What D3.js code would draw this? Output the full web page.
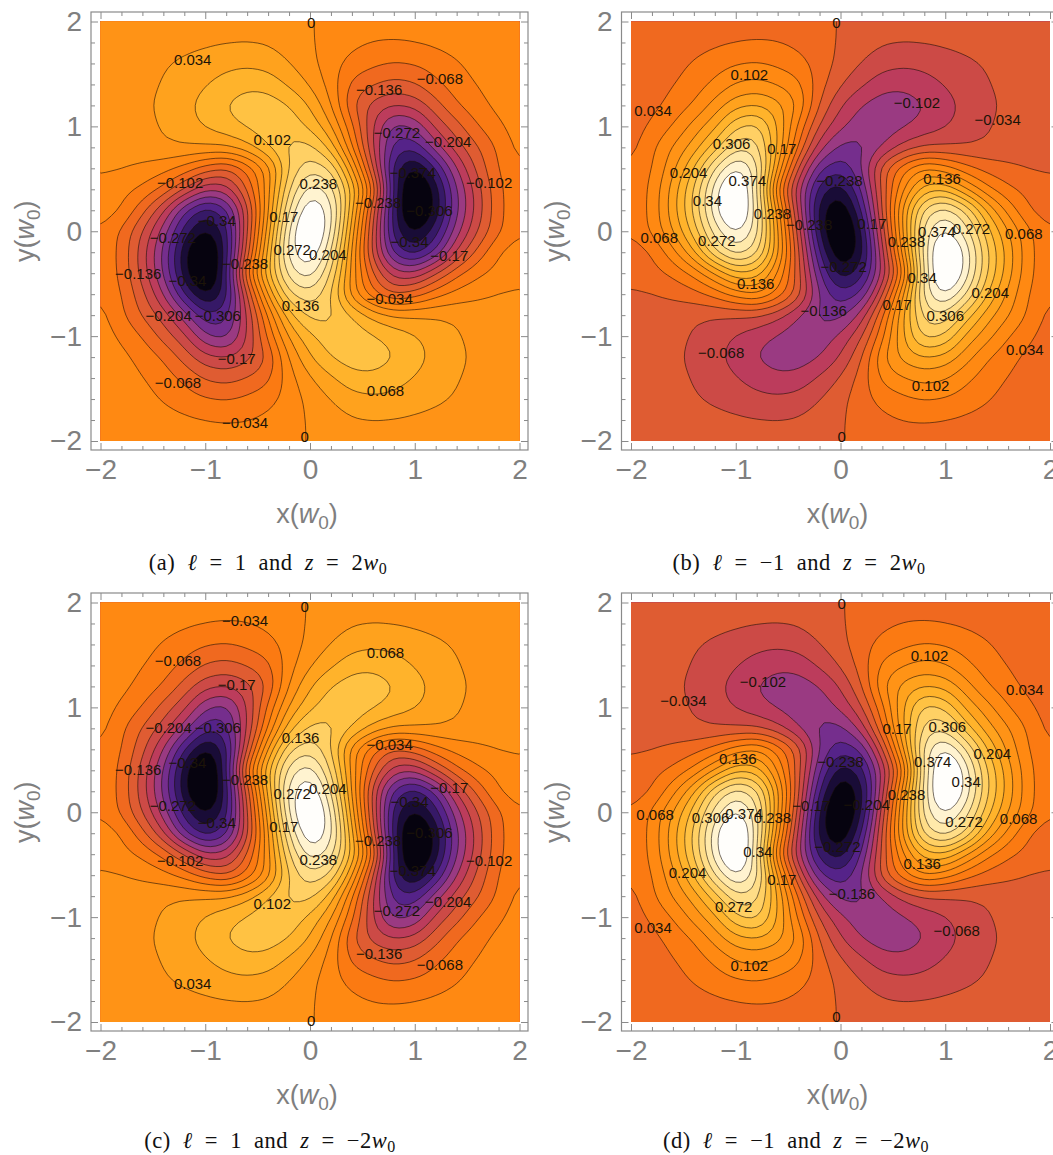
<!DOCTYPE html>
<html>
<head>
<meta charset="utf-8">
<script src="https://cdn.jsdelivr.net/npm/d3@7"></script>
<style>
html, body { margin: 0; padding: 0; background: #fff; overflow: hidden; }
svg { display: block; }
</style>
</head>
<body>
<div id="chart"></div>
<script>
// field of panel (a). rows go y = 2 .. 0, columns x = -2 .. 2 in steps of 0.2
// the lower half is the same field turned by 180 degrees
let upperRows = [
    [.004,.006,.008,.011,.014,.017,.019,.020,.018,.011,.002,-.008,-.014,-.019,-.020,-.020,-.017,-.013,-.009,-.006,-.004],
    [.005,.008,.011,.016,.021,.027,.031,.033,.030,.018,.004,-.014,-.026,-.034,-.035,-.032,-.027,-.020,-.013,-.008,-.005],
    [.006,.011,.019,.030,.042,.052,.060,.062,.055,.034,.010,-.020,-.045,-.060,-.070,-.065,-.052,-.037,-.022,-.012,-.007],
    [.006,.012,.022,.037,.052,.066,.080,.094,.090,.062,.030,-.015,-.078,-.100,-.115,-.105,-.075,-.050,-.032,-.018,-.010],
    [.004,.012,.026,.043,.060,.080,.105,.122,.122,.105,.066,.004,-.100,-.150,-.170,-.160,-.115,-.070,-.045,-.024,-.012],
    [.002,.010,.022,.038,.054,.072,.088,.108,.125,.125,.095,.040,-.060,-.170,-.255,-.235,-.160,-.115,-.068,-.040,-.016],
    [.005,.012,.020,.028,.033,.034,.036,.058,.105,.145,.150,.090,-.030,-.170,-.290,-.300,-.220,-.150,-.105,-.060,-.022],
    [.006,.003,-.007,-.020,-.045,-.085,-.110,-.060,.012,.140,.195,.170,.040,-.135,-.330,-.385,-.310,-.204,-.125,-.065,-.036],
    [-.012,-.022,-.040,-.075,-.135,-.200,-.190,-.100,.020,.170,.262,.225,.100,-.060,-.320,-.455,-.360,-.240,-.150,-.073,-.042],
    [-.016,-.032,-.090,-.165,-.272,-.330,-.290,-.150,.030,.210,.315,.262,.080,-.120,-.330,-.455,-.365,-.245,-.155,-.075,-.042]
];
let middleRow = [-.036,-.073,-.136,-.220,-.325,-.385,-.330,-.140,.050,.250,.345,.250,.050,-.140,-.330,-.385,-.325,-.220,-.136,-.073,-.036];

let levelSteps = d3.range(-11, 9);   // contour levels are multiples of 0.034

let majorTicks = [-2, -1, 0, 1, 2];
let minorTicks = d3.range(-20, 21, 2).map(d => d / 10).filter(d => !majorTicks.includes(d));

let colorStops = [0, .05, .1, .15, .2, .262, .31, .357, .405, .453, .5, .55, .6, .65, .7, .75, .8, .85, .9, .95, .98];
let colorValues = ["#000000", "#0d0620", "#2a1555", "#4a2085", "#6a2a90", "#9a3a82", "#bc3c5c", "#cc4a46", "#df5c32",
    "#f0691f", "#fb7a12", "#ff8a12", "#ff9416", "#ffa41e", "#ffb62e", "#ffc64a", "#ffd46e", "#ffe294", "#ffedb8", "#fff8e2", "#ffffff"];

// contour labels: text, x, y. panel (c) uses labelsA with y turned over
let labelsA = [
    ["0",.01,1.99],["0.034",-1.12,1.64],["\u22120.068",1.24,1.45],["\u22120.136",.66,1.35],["0.102",-.36,.87],
    ["\u22120.272",.83,.94],["\u22120.204",1.32,.85],["\u22120.102",-1.24,.46],["\u22120.102",1.71,.46],["\u22120.374",.98,.56],
    ["0.238",.08,.45],["0.17",-.25,.14],["\u22120.34",-.89,.10],["\u22120.238",.65,.27],["\u22120.306",1.14,.20],
    ["\u22120.272",-1.31,-.06],["0.272",-.17,-.18],["0.204",.17,-.22],["\u22120.238",-.62,-.31],["\u22120.136",-1.64,-.41],
    ["\u22120.34",-1.17,-.47],["\u22120.34",.95,-.10],["\u22120.17",1.33,-.23],["\u22120.034",.76,-.64],["0.136",-.09,-.71],
    ["\u22120.204",-1.35,-.81],["\u22120.306",-.88,-.81],["\u22120.17",-.70,-1.22],["\u22120.068",-1.26,-1.44],["0.068",.72,-1.52],
    ["\u22120.034",-.62,-1.83],["0",-.05,-1.96]
];
let labelsB = [
    ["0",-.04,1.99],["0.102",-.87,1.49],["\u22120.102",.73,1.23],["0.034",-1.79,1.15],["\u22120.034",1.50,1.06],
    ["0.306",-1.04,.83],["0.17",-.56,.79],["0.204",-1.45,.56],["0.136",.97,.50],["\u22120.238",-.01,.48],
    ["0.374",-.89,.48],["0.34",-1.27,.29],["0.238",-.65,.17],["\u22120.238",-.30,.06],["0.17",.30,.07],
    ["0.068",-1.73,-.06],["0.272",-1.18,-.09],["\u22120.272",.03,-.34],["0.238",.63,-.10],["0.374",.92,0],
    ["0.272",1.25,.02],["0.068",1.75,-.02],["0.34",.78,-.44],["0.204",1.43,-.59],["0.17",.54,-.70],
    ["0.306",1.0,-.81],["\u22120.136",-.16,-.76],["0.136",-.81,-.50],["\u22120.068",-1.14,-1.16],["0.034",1.76,-1.13],
    ["0.102",.86,-1.47],["0",.01,-1.96]
];
let labelsD = [
    ["0",.01,1.99],["0.102",.85,1.49],["0.034",1.76,1.17],["\u22120.034",-1.50,1.06],["\u22120.102",-.74,1.24],
    ["0.17",.54,.80],["0.306",1.02,.82],["0.136",-.98,.51],["0.204",1.45,.56],["\u22120.238",0,.48],
    ["0.374",.88,.48],["0.34",1.20,.29],["0.238",.63,.17],["\u22120.17",-.28,.06],["\u22120.204",.25,.07],
    ["0.068",-1.77,-.02],["0.306",-1.24,-.05],["0.374",-.92,-.01],["0.238",-.65,-.05],["0.272",1.18,-.09],
    ["0.068",1.70,-.06],["\u22120.272",-.03,-.33],["0.34",-.79,-.38],["0.136",.78,-.49],["0.204",-1.46,-.58],
    ["0.17",-.56,-.64],["\u22120.136",.11,-.78],["0.272",-1.02,-.90],["0.034",-1.79,-1.10],["\u22120.068",1.11,-1.13],
    ["0.102",-.87,-1.46],["0",-.04,-1.95]
];

let captions = {
    a: ["(a) ", ["\u2113"], " = 1 and ", ["z"], " = 2", ["w"], "0"],
    b: ["(b) ", ["\u2113"], " = \u22121 and ", ["z"], " = 2", ["w"], "0"],
    c: ["(c) ", ["\u2113"], " = 1 and ", ["z"], " = \u22122", ["w"], "0"],
    d: ["(d) ", ["\u2113"], " = \u22121 and ", ["z"], " = \u22122", ["w"], "0"]
};

let width = 1053, height = 1155;
let step = 0.034;
let n = 21;
let fine = 4;                 // contour surface has 4 cells per read value
let m = (n - 1) * fine + 1;

let lowerRows = upperRows.slice().reverse().map(r => r.slice().reverse());
let rows = upperRows.concat([middleRow], lowerRows);

let color = d3.scaleLinear().domain(colorStops).range(colorValues).clamp(true);
let gridX = d3.scaleLinear().domain([0, m - 1]).range([-2, 2]);
let gridY = d3.scaleLinear().domain([0, m - 1]).range([2, -2]);

// the read values are coarse, so contour a softened surface through them
function surface(value) {
    let out = new Float64Array(m * m);
    for (let j = 0; j < m; j++) {
        for (let i = 0; i < m; i++) {
            let i0 = Math.min(Math.floor(i / fine), n - 2), j0 = Math.min(Math.floor(j / fine), n - 2);
            let u = i / fine - i0, v = j / fine - j0;
            let top = d3.interpolateNumber(value(i0, j0), value(i0 + 1, j0))(u);
            let bottom = d3.interpolateNumber(value(i0, j0 + 1), value(i0 + 1, j0 + 1))(u);
            out[j * m + i] = d3.interpolateNumber(top, bottom)(v);
        }
    }
    return d3.blur2({data: out, width: m, height: m}, 1).data;
}

let svg = d3.select("#chart").append("svg")
    .attr("width", width)
    .attr("height", height)
    .attr("viewBox", [0, 0, width, height]);

let panels = [
    {id: "a", left: 100.5, top: 21.5, labels: labelsA, flipLabels: false, low: -.408, high: .306, capX: 268, capY: 570,
        value: (i, j) => rows[j][i]},
    {id: "b", left: 631, top: 21.5, labels: labelsB, flipLabels: false, low: -.306, high: .408, capX: 799, capY: 570,
        value: (i, j) => -rows[n - 1 - j][i]},
    {id: "c", left: 100.5, top: 602.5, labels: labelsA, flipLabels: true, low: -.408, high: .306, capX: 270, capY: 1148,
        value: (i, j) => rows[n - 1 - j][i]},
    {id: "d", left: 631, top: 602.5, labels: labelsD, flipLabels: false, low: -.306, high: .408, capX: 796, capY: 1148,
        value: (i, j) => -rows[j][i]}
];

panels.forEach(function (p) {
    let x = d3.scaleLinear().domain([-2, 2]).range([p.left, p.left + 419]);
    let y = d3.scaleLinear().domain([-2, 2]).range([p.top + 419.5, p.top]);
    let g = svg.append("g").attr("class", "panel-" + p.id);

    let values = surface(p.value);

    let levels = levelSteps.map(k => k * step);
    if (p.id === "b" || p.id === "d") levels = levelSteps.map(k => -k * step).reverse();

    let bandColor = function (mid) {
        return color((mid - p.low) / (p.high - p.low));
    };

    let contours = d3.contours().size([m, m]).smooth(true).thresholds(levels)(values);

    // contour rings come in cell units, cell centres sit at i + 0.5
    let line = d3.line()
        .x(d => x(gridX(d[0] - .5)))
        .y(d => y(gridY(d[1] - .5)))
        .curve(d3.curveLinearClosed);

    let ringsToPath = function (c) {
        let out = "";
        c.coordinates.forEach(function (polygon) {
            polygon.forEach(function (ring) {
                out += line(ring.slice(0, -1));
            });
        });
        return out;
    };

    g.append("clipPath").attr("id", "clip-" + p.id)
        .append("rect")
        .attr("x", x(-2)).attr("y", y(2))
        .attr("width", x(2) - x(-2)).attr("height", y(-2) - y(2));

    let plot = g.append("g").attr("clip-path", "url(#clip-" + p.id + ")");

    plot.append("rect")
        .attr("x", x(-2)).attr("y", y(2))
        .attr("width", x(2) - x(-2)).attr("height", y(-2) - y(2))
        .attr("fill", bandColor(levels[0] - step / 2));

    plot.selectAll("path.band")
        .data(contours)
        .enter().append("path")
        .attr("class", "band")
        .attr("d", ringsToPath)
        .attr("fill", d => bandColor(d.value + step / 2))
        .attr("fill-rule", "evenodd")
        .attr("stroke", "#1a1008")
        .attr("stroke-opacity", .62)
        .attr("stroke-width", .95);

    // frame sits a little outside the plotted range
    let frameL = x(-2) - 9.5, frameR = x(2) + 8.5, frameT = y(2) - 9.5, frameB = y(-2) + 9;
    g.append("rect")
        .attr("x", frameL).attr("y", frameT)
        .attr("width", frameR - frameL).attr("height", frameB - frameT)
        .attr("fill", "none")
        .attr("stroke", "#8a8a8a")
        .attr("stroke-width", 1.2);

    let fmt = d3.format("d");
    let axes = [
        {make: d3.axisBottom(x), at: [0, frameB], labelled: true},
        {make: d3.axisBottom(x), at: [0, frameT], labelled: false, flip: true},
        {make: d3.axisLeft(y), at: [frameL, 0], labelled: true},
        {make: d3.axisLeft(y), at: [frameR, 0], labelled: false, flip: true}
    ];
    axes.forEach(function (a) {
        let sign = a.flip ? 1 : -1;
        let major = g.append("g")
            .attr("transform", "translate(" + a.at + ")")
            .call(a.make.tickValues(majorTicks).tickSizeInner(sign * 7).tickSizeOuter(0).tickPadding(9)
                .tickFormat(a.labelled ? fmt : ""));
        major.select(".domain").remove();
        major.selectAll("text")
            .attr("fill", "#7f7f7f")
            .style("font-family", "'Liberation Sans', Arial, sans-serif")
            .style("font-size", "28px");
        major.selectAll("line").attr("stroke", "#8a8a8a");

        let minor = g.append("g")
            .attr("transform", "translate(" + a.at + ")")
            .call(a.make.tickValues(minorTicks).tickSizeInner(sign * 4).tickSizeOuter(0).tickFormat(""));
        minor.select(".domain").remove();
        minor.selectAll("line").attr("stroke", "#8a8a8a");
    });

    g.selectAll("text.contour-label")
        .data(p.labels)
        .enter().append("text")
        .attr("class", "contour-label")
        .attr("x", d => x(d[1]))
        .attr("y", d => y(p.flipLabels ? -d[2] : d[2]))
        .attr("dy", ".35em")
        .attr("text-anchor", "middle")
        .attr("fill", "#1c1408")
        .style("font-family", "'Liberation Sans', Arial, sans-serif")
        .style("font-size", "15px")
        .text(d => d[0]);

    // axis titles
    let xTitle = g.append("text")
        .attr("x", x(0) - 3)
        .attr("y", frameB + 73)
        .attr("text-anchor", "middle")
        .attr("fill", "#7f7f7f")
        .style("font-family", "'Liberation Sans', Arial, sans-serif")
        .style("font-size", "27px");
    xTitle.append("tspan").text("x(");
    xTitle.append("tspan").attr("font-style", "italic").text("w");
    xTitle.append("tspan").attr("dy", 6).style("font-size", "19px").text("0");
    xTitle.append("tspan").attr("dy", -6).text(")");

    let yTitle = g.append("text")
        .attr("transform", "translate(" + (x(-2) - 67) + "," + y(0) + ") rotate(-90)")
        .attr("text-anchor", "middle")
        .attr("fill", "#7f7f7f")
        .style("font-family", "'Liberation Sans', Arial, sans-serif")
        .style("font-size", "27px");
    yTitle.append("tspan").text("y(");
    yTitle.append("tspan").attr("font-style", "italic").text("w");
    yTitle.append("tspan").attr("dy", 6).style("font-size", "19px").text("0");
    yTitle.append("tspan").attr("dy", -6).text(")");

    // caption
    let cap = g.append("text")
        .attr("x", p.capX)
        .attr("y", p.capY)
        .attr("text-anchor", "middle")
        .attr("fill", "#111")
        .style("font-family", "'Liberation Serif', 'DejaVu Serif', serif")
        .style("font-size", "22.5px")
        .style("letter-spacing", ".5px")
        .style("word-spacing", "6px");
    captions[p.id].forEach(function (part, k, all) {
        let t = cap.append("tspan").text(Array.isArray(part) ? part[0] : part);
        if (Array.isArray(part)) t.attr("font-style", "italic");
        if (k === all.length - 1) t.attr("dy", 4).style("font-size", "16px");
    });
});
</script>
</body>
</html>
